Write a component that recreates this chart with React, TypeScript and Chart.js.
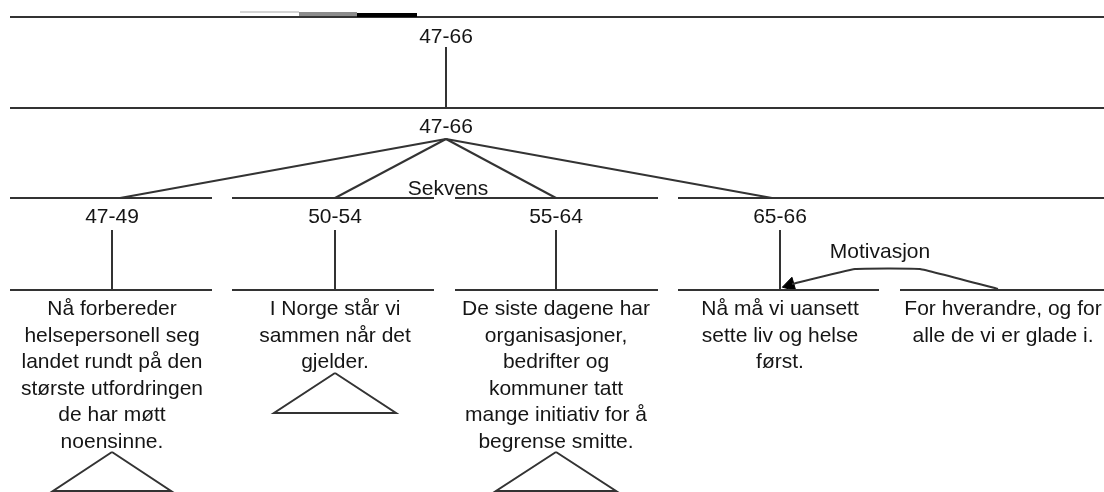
import React, { useEffect, useRef } from "react";
import { Chart, registerables } from "chart.js";

Chart.register(...registerables);

// ---- Data ----
const rootLabel = "47-66";
const relationLabels = ["Sekvens", "Motivasjon"];
const levelY = [17, 108, 198, 290]; // tree levels (diagram units)
const rootX = 446;
const spanLabels = ["47-49", "50-54", "55-64", "65-66"];
const spanCenters = [112, 335, 556, 780];
const spanRanges = [
  [10, 212],
  [232, 434],
  [455, 658],
  [678, 1104],
];
const attachX = [120, 335, 556, 772];
const leafCenters = [112, 335, 556, 780, 1003];
const leafRanges = [
  [10, 212],
  [232, 434],
  [455, 658],
  [678, 879],
  [900, 1104],
];
const leafTexts = [
  [
    "Nå forbereder",
    "helsepersonell seg",
    "landet rundt på den",
    "største utfordringen",
    "de har møtt",
    "noensinne.",
  ],
  ["I Norge står vi", "sammen når det", "gjelder."],
  [
    "De siste dagene har",
    "organisasjoner,",
    "bedrifter og",
    "kommuner tatt",
    "mange initiativ for å",
    "begrense smitte.",
  ],
  ["Nå må vi uansett", "sette liv og helse", "først."],
  ["For hverandre, og for", "alle de vi er glade i."],
];
// collapsed subtrees
const triangleLeaves = [0, 1, 2];
const triangleApexY = [452, 373, 452];
const triangleBaseY = [491, 413, 491];
const triangleHalf = [59, 61, 60];
// motivation arc (satellite -> nucleus)
const arcX = [998, 920, 855, 792];
const arcY = [289, 269, 269, 284];
// scrollbar marks on top line
const barStops = [240, 299, 357, 417];

const LINE = "#333333";

function seg(x1: number, y1: number, x2: number, y2: number, color = LINE, width = 2, extra: any = {}) {
  return {
    data: [
      { x: x1, y: y1 },
      { x: x2, y: y2 },
    ],
    showLine: true,
    borderColor: color,
    borderWidth: width,
    pointRadius: 0,
    tension: 0,
    ...extra,
  };
}

function buildDatasets() {
  const ds: any[] = [];
  // scrollbar marks + top line
  ds.push(seg(barStops[0], 12, barStops[1], 12, "#d4d4d4", 2));
  ds.push(seg(barStops[1], 14, barStops[2], 14, "#8c8c8c", 4));
  ds.push(seg(barStops[2], 15, barStops[3], 15, "#000000", 4));
  ds.push(seg(10, levelY[0], 1104, levelY[0]));
  // root vertical
  ds.push(seg(rootX, 47, rootX, levelY[1]));
  ds.push(seg(10, levelY[1], 1104, levelY[1]));
  // apex lines
  attachX.forEach((ax) => ds.push(seg(rootX, 139, ax, levelY[2])));
  // span lines + verticals
  spanRanges.forEach((r) => ds.push(seg(r[0], levelY[2], r[1], levelY[2])));
  spanCenters.forEach((c) => ds.push(seg(c, 230, c, levelY[3])));
  // leaf lines
  leafRanges.forEach((r) => ds.push(seg(r[0], levelY[3], r[1], levelY[3])));
  // triangles
  triangleLeaves.forEach((li, i) => {
    const cx = leafCenters[li];
    ds.push({
      data: [
        { x: cx, y: triangleApexY[i] },
        { x: cx - triangleHalf[i], y: triangleBaseY[i] },
        { x: cx + triangleHalf[i], y: triangleBaseY[i] },
        { x: cx, y: triangleApexY[i] },
      ],
      showLine: true,
      borderColor: LINE,
      borderWidth: 2,
      pointRadius: 0,
      tension: 0,
    });
  });
  // motivation arc
  ds.push({
    data: arcX.map((x, i) => ({ x, y: arcY[i] })),
    showLine: true,
    borderColor: LINE,
    borderWidth: 2,
    pointRadius: 0,
    tension: 0.08,
  });
  // arrow head
  ds.push({
    data: [{ x: 790, y: 285 }],
    showLine: false,
    pointStyle: "triangle",
    pointRadius: 8,
    pointRotation: 254,
    pointBackgroundColor: "#000",
    pointBorderColor: "#000",
    pointBorderWidth: 1,
  });
  return ds;
}

const textPlugin = {
  id: "rstText",
  afterDatasetsDraw(chart: any) {
    const { ctx, scales } = chart;
    const xs = scales.x;
    const ys = scales.y;
    const put = (t: string, x: number, y: number) =>
      ctx.fillText(t, xs.getPixelForValue(x), ys.getPixelForValue(y));
    ctx.save();
    ctx.fillStyle = "#151515";
    ctx.font = '21px "Liberation Sans", Arial, sans-serif';
    ctx.textAlign = "center";
    ctx.textBaseline = "alphabetic";
    put(rootLabel, rootX, 43);
    put(rootLabel, rootX, 133);
    put(relationLabels[0], rootX + 2, 195);
    put(relationLabels[1], 880, 258);
    spanLabels.forEach((l, i) => put(l, spanCenters[i], 223));
    leafTexts.forEach((lines, i) =>
      lines.forEach((t, j) => put(t, leafCenters[i], 315 + j * 26.6))
    );
    ctx.restore();
  },
};

export default function App() {
  const ref = useRef<HTMLCanvasElement | null>(null);
  useEffect(() => {
    document.body.style.margin = "0";
    if (!ref.current) return;
    const chart = new Chart(ref.current, {
      type: "scatter",
      data: { datasets: buildDatasets() },
      options: {
        animation: false,
        responsive: false,
        maintainAspectRatio: false,
        events: [],
        layout: { padding: 0, autoPadding: false },
        scales: {
          x: { type: "linear", min: 0, max: 1104, display: false },
          y: { type: "linear", min: 0, max: 492, reverse: true, display: false },
        },
        plugins: { legend: { display: false }, tooltip: { enabled: false } },
      } as any,
      plugins: [textPlugin],
    });
    return () => chart.destroy();
  }, []);
  return (
    <div style={{ width: 1104, height: 492, background: "#fff" }}>
      <canvas ref={ref} width={1104} height={492} style={{ display: "block" }} />
    </div>
  );
}
